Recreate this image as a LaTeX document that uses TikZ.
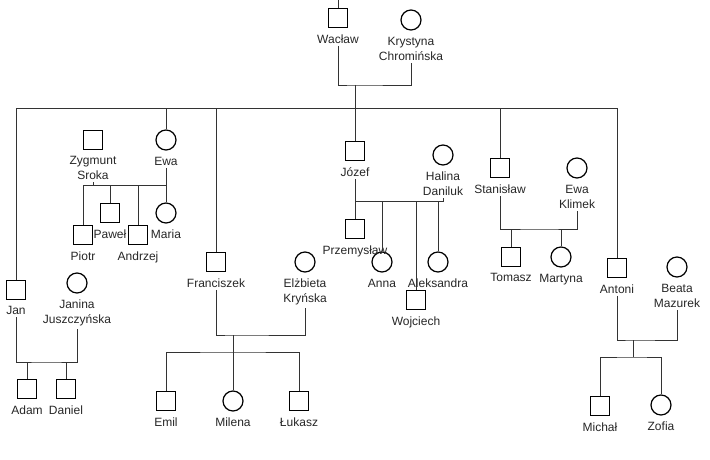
\documentclass[tikz,border=0pt]{standalone}
\usepackage{fontspec}
\setmainfont{Liberation Sans}
\usetikzlibrary{positioning}
\tikzstyle{male} = [draw,rectangle,line width=1.2pt,minimum size=19pt,inner sep=0pt]
\tikzstyle{female} = [draw,circle,line width=1.2pt,minimum size=20pt,inner sep=0pt]
\tikzstyle{lbl} = [inner sep=0pt,outer ysep=2.5pt,align=center,font=\fontsize{12}{15}\selectfont,text=black!85]
\tikzstyle{tie} = [draw,line width=0.8pt,black!80]
\begin{document}
\begin{tikzpicture}[x=1pt,y=-1pt,node distance=4pt]
   \useasboundingbox (0,0) rectangle (710,460);
   \node[male] (wac) at (338,18) {};
   \node[female] (kry) at (411,20) {};
   \node[lbl,below=of wac] (wacN) {Wacław};
   \node[lbl,below=of kry] (kryN) {Krystyna\\Chromińska};

   \node[male] (jan) at (16,290) {};
   \node[female] (janina) at (77,283) {};
   \node[male] (zyg) at (93,140) {};
   \node[female] (ewa) at (166,140) {};
   \node[male] (fra) at (216,262) {};
   \node[female] (elz) at (305,262) {};
   \node[male] (jozef) at (355,151) {};
   \node[female] (halina) at (443,155) {};
   \node[male] (stan) at (500,168) {};
   \node[female] (klimek) at (577,168) {};
   \node[male] (antoni) at (617,268) {};
   \node[female] (beata) at (677,267) {};
   \node[lbl,below=of jan] (janN) {Jan};
   \node[lbl,below=of janina] (janinaN) {Janina\\Juszczyńska};
   \node[lbl,below=of zyg] (zygN) {Zygmunt\\Sroka};
   \node[lbl,below=of ewa] (ewaN) {Ewa};
   \node[lbl,below=of fra] (fraN) {Franciszek};
   \node[lbl,below=of elz] (elzN) {Elżbieta\\Kryńska};
   \node[lbl,below=of jozef] (jozefN) {Józef};
   \node[lbl,below=of halina] (halinaN) {Halina\\Daniluk};
   \node[lbl,below=of stan] (stanN) {Stanisław};
   \node[lbl,below=of klimek] (klimekN) {Ewa\\Klimek};
   \node[lbl,below=of antoni] (antoniN) {Antoni};
   \node[lbl,below=of beata] (beataN) {Beata\\Mazurek};

   \node[male] (adam) at (27,389) {};
   \node[male] (daniel) at (66,389) {};
   \node[male] (piotr) at (83,235) {};
   \node[male] (pawel) at (110,213) {};
   \node[male] (andrzej) at (138,235) {};
   \node[female] (maria) at (166,213) {};
   \node[male] (emil) at (166,401) {};
   \node[female] (milena) at (233,401) {};
   \node[male] (lukasz) at (299,401) {};
   \node[male] (prz) at (355,229) {};
   \node[female] (anna) at (382,262) {};
   \node[male] (woj) at (416,300) {};
   \node[female] (aleks) at (438,262) {};
   \node[male] (tomasz) at (511,257) {};
   \node[female] (martyna) at (561,257) {};
   \node[male] (michal) at (600,406) {};
   \node[female] (zofia) at (661,405) {};
   \node[lbl,below=of adam] (adamN) {Adam};
   \node[lbl,below=of daniel] (danielN) {Daniel};
   \node[lbl,below=of piotr] (piotrN) {Piotr};
   \node[lbl,below=of pawel] (pawelN) {Paweł};
   \node[lbl,below=of andrzej] (andrzejN) {Andrzej};
   \node[lbl,below=of maria] (mariaN) {Maria};
   \node[lbl,below=of emil] (emilN) {Emil};
   \node[lbl,below=of milena] (milenaN) {Milena};
   \node[lbl,below=of lukasz] (lukaszN) {Łukasz};
   \node[lbl,below=of prz] (przN) {Przemysław};
   \node[lbl,below=of anna] (annaN) {Anna};
   \node[lbl,below=of woj] (wojN) {Wojciech};
   \node[lbl,below=of aleks] (aleksN) {Aleksandra};
   \node[lbl,below=of tomasz] (tomaszN) {Tomasz};
   \node[lbl,below=of martyna] (martynaN) {Martyna};
   \node[lbl,below=of michal] (michalN) {Michał};
   \node[lbl,below=of zofia] (zofiaN) {Zofia};

   \coordinate (up) at (338,0);
   \coordinate (wk) at (355,85);
   \coordinate (sibR) at (617,108);
   \coordinate (ze) at (83,185);
   \coordinate (jh) at (355,201);
   \coordinate (se) at (540,229);
   \coordinate (jj) at (46,362);
   \coordinate (fe) at (233,335);
   \coordinate (fk) at (233,352);
   \coordinate (ab) at (633,340);
   \coordinate (ak) at (633,357);

   \path[tie] (wac) -- (up);
   \path[tie] (wacN) |- (wk) -| (kryN);
   \path[tie] (wk) -- (wk |- sibR);
   \path[tie] (jan) |- (sibR) -- (antoni);
   \foreach \c in {ewa,fra,jozef,stan}
      \path[tie] (\c) -- (\c |- sibR);

   \path[tie] (ewaN) |- (ze) -- (piotr);
   \path[tie] (zygN) -- (zygN |- ze);
   \foreach \c in {pawel,andrzej,maria}
      \path[tie] (\c) -- (\c |- ze);

   \path[tie] (jozefN) -- (prz);
   \path[tie] (halinaN) |- (jh);
   \foreach \c in {anna,woj,aleks}
      \path[tie] (\c) -- (\c |- jh);

   \path[tie] (stanN) |- (se) -| (klimekN);
   \foreach \c in {tomasz,martyna}
      \path[tie] (\c) -- (\c |- se);

   \path[tie] (janN) |- (jj) -| (janinaN);
   \foreach \c in {adam,daniel}
      \path[tie] (\c) -- (\c |- jj);

   \path[tie] (fraN) |- (fe) -| (elzN);
   \path[tie] (fe) -- (fk);
   \path[tie] (emil) |- (fk) -| (lukasz);
   \path[tie] (milena) -- (fk);

   \path[tie] (antoniN) |- (ab) -| (beataN);
   \path[tie] (ab) -- (ak);
   \path[tie] (michal) |- (ak) -| (zofia);
\end{tikzpicture}
\end{document}
